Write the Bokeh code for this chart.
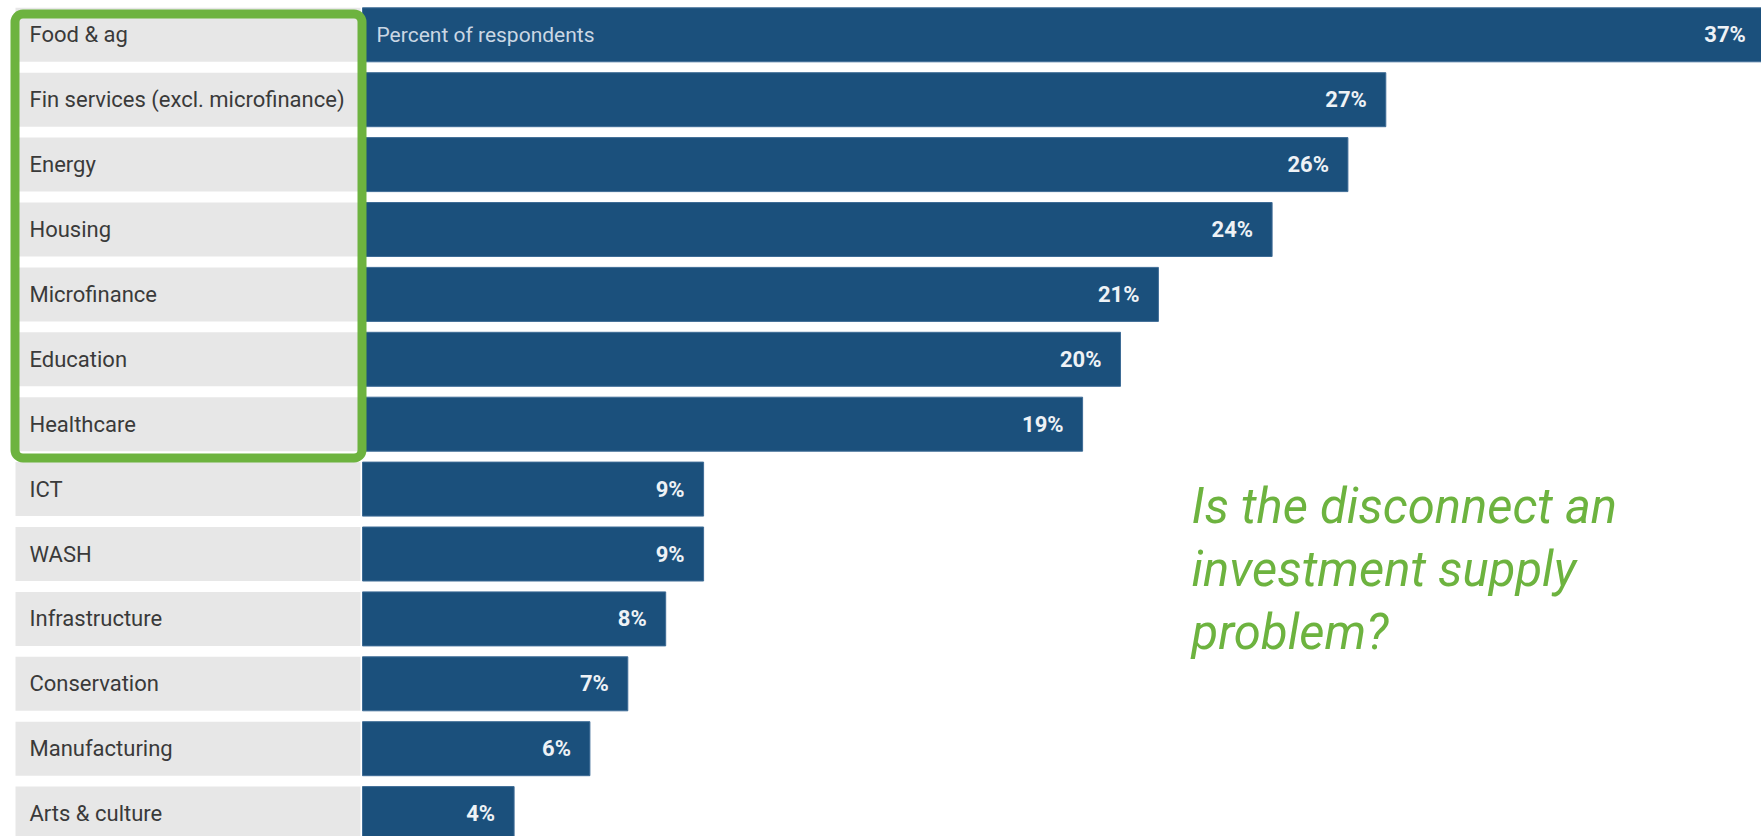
from bokeh.plotting import figure
from bokeh.models import Range1d, Label, BoxAnnotation
from bokeh.core.properties import value
from bokeh.embed import file_html
from bokeh.resources import INLINE

# ---- data ----
categories = ["Food & ag", "Fin services (excl. microfinance)", "Energy", "Housing",
              "Microfinance", "Education", "Healthcare", "ICT", "WASH",
              "Infrastructure", "Conservation", "Manufacturing", "Arts & culture"]
percent = [37, 27, 26, 24, 21, 20, 19, 9, 9, 8, 7, 6, 4]
axis_title = "Percent of respondents"
highlight_count = 7
question = ["Is the disconnect an", "investment supply", "problem?"]

# ---- layout (pixels) ----
W, H = 1761, 836
PX_PER_PCT = 37.9
ZERO_PX = 362
ROW_PX = 64.9
FIRST_ROW_CENTER = 34.3
BAR_PX = 54

FONT = "Roboto"
BAR_COLOR = "#1B507C"
GREEN = "#6DB33F"

x_start = -ZERO_PX / PX_PER_PCT
x_end = x_start + W / PX_PER_PCT
y_top = -FIRST_ROW_CENTER / ROW_PX
y_bottom = y_top + H / ROW_PX


def px_x(px):
    return (px - ZERO_PX) / PX_PER_PCT


def px_y(px):
    return (px - FIRST_ROW_CENTER) / ROW_PX


p = figure(width=W, height=H, x_range=Range1d(x_start, x_end),
           y_range=Range1d(y_bottom, y_top), output_backend="svg",
           toolbar_location=None, x_axis_type=None, y_axis_type=None,
           min_border=0, outline_line_color=None, background_fill_color="white",
           border_fill_color="white")

rows = list(range(len(categories)))
bar_h = BAR_PX / ROW_PX
gray_left = px_x(15)
gray_right = px_x(360)

# grey label boxes
p.hbar(y=rows, left=gray_left, right=gray_right, height=bar_h,
       fill_color="#E7E7E7", line_color=None)
# bars
p.hbar(y=rows, left=0, right=percent, height=bar_h,
       fill_color=BAR_COLOR, line_color="#3E6C96", line_width=1)

# category labels
p.text(x=[gray_left] * len(rows), y=rows, text=categories, x_offset=14,
       text_baseline="middle", text_align="left",
       text_font=value(FONT), text_font_size="22px", text_color="#3A3A3A")

# value labels
p.text(x=percent, y=rows, text=[f"{v}%" for v in percent], x_offset=-19,
       text_baseline="middle", text_align="right",
       text_font=value(FONT), text_font_size="22px", text_font_style="bold",
       text_color="#EEF2F6")

# axis title inside first bar
p.text(x=[0], y=[rows[0]], text=[axis_title], x_offset=14,
       text_baseline="middle", text_align="left",
       text_font=value(FONT), text_font_size="21px", text_color="#CAD7E4")

# green highlight box around top categories
box = BoxAnnotation(left=px_x(14.5), right=px_x(361.5),
                    top=px_y(13.5), bottom=px_y(457.5),
                    fill_alpha=0, fill_color=None, line_color=GREEN,
                    line_alpha=1.0, line_width=9, border_radius=8)
p.add_layout(box)

# question text
for i, line in enumerate(question):
    p.add_layout(Label(x=1191, y=H - 506 - 63 * i, x_units="screen", y_units="screen",
                       text=line, text_font=FONT, text_font_style="italic",
                       text_baseline="alphabetic",
                       text_font_size="49px", text_color=GREEN))

open("out.html", "w").write(file_html(p, INLINE))
